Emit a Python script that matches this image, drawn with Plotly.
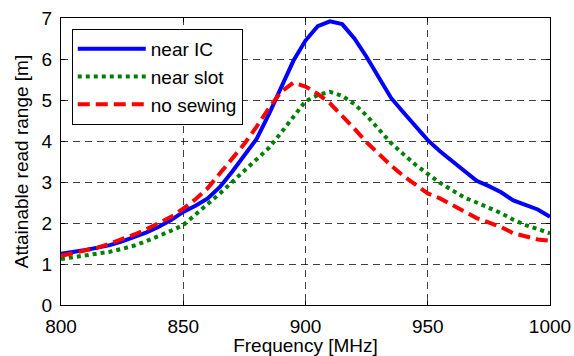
import plotly.graph_objects as go

freq = [800, 805, 810, 815, 820, 825, 830, 835, 840, 845, 850, 855, 860, 865, 870, 875, 880, 885, 890, 895,
        900, 905, 910, 915, 920, 925, 930, 935, 940, 945, 950, 955, 960, 965, 970, 975, 980, 985, 990, 995, 1000]

near_ic = [1.25, 1.29, 1.34, 1.40, 1.46, 1.55, 1.65, 1.77, 1.91, 2.07, 2.27, 2.42, 2.60, 2.88, 3.25, 3.65, 4.05, 4.65, 5.30, 5.95,
           6.45, 6.80, 6.92, 6.85, 6.50, 6.05, 5.55, 5.05, 4.70, 4.35, 4.02, 3.75, 3.50, 3.27, 3.03, 2.90, 2.75, 2.55, 2.45, 2.33, 2.15]

near_slot = [1.12, 1.16, 1.20, 1.25, 1.30, 1.37, 1.45, 1.56, 1.68, 1.81, 1.95, 2.20, 2.45, 2.72, 3.00, 3.27, 3.55, 3.83, 4.20, 4.60,
             4.97, 5.12, 5.20, 5.10, 4.90, 4.62, 4.30, 3.95, 3.68, 3.42, 3.20, 2.98, 2.80, 2.62, 2.50, 2.38, 2.24, 2.08, 1.95, 1.85, 1.75]

no_sewing = [1.20, 1.26, 1.32, 1.40, 1.50, 1.60, 1.72, 1.85, 1.99, 2.15, 2.35, 2.58, 2.85, 3.20, 3.55, 3.93, 4.35, 4.80, 5.20, 5.42,
             5.33, 5.15, 4.92, 4.62, 4.30, 3.97, 3.67, 3.40, 3.15, 2.92, 2.72, 2.60, 2.45, 2.28, 2.12, 2.00, 1.90, 1.75, 1.68, 1.60, 1.57]

x_ticks = [800, 850, 900, 950, 1000]
y_ticks = [0, 1, 2, 3, 4, 5, 6, 7]

FONT = "Liberation Sans, Arial, Helvetica, sans-serif"
FS = 19

fig = go.Figure()
fig.add_trace(go.Scatter(x=freq, y=near_ic, mode="lines", name="near IC",
                         line=dict(color="#0000ff", width=4)))
fig.add_trace(go.Scatter(x=freq, y=near_slot, mode="lines", name="near slot",
                         line=dict(color="#007f00", width=4, dash="dot")))
fig.add_trace(go.Scatter(x=freq, y=no_sewing, mode="lines", name="no sewing",
                         line=dict(color="#ff0000", width=4, dash="12px,6px")))

axis_common = dict(
    showline=True, linecolor="black", linewidth=1, mirror="ticks",
    ticks="inside", ticklen=4, tickcolor="black",
    showgrid=True, gridcolor="rgba(0,0,0,0.75)", gridwidth=1, griddash="7px,5px",
    zeroline=False, tickfont=dict(family=FONT, size=FS, color="black"),
    automargin=False,
)

fig.update_xaxes(range=[800, 1000], tickvals=x_ticks, ticktext=[str(v) for v in x_ticks],
                 ticklabelstandoff=4,
                 title=dict(text="Frequency [MHz]", font=dict(family=FONT, size=FS, color="black"), standoff=0),
                 **axis_common)
fig.update_yaxes(range=[0, 7], tickvals=y_ticks, ticktext=[str(v) for v in y_ticks],
                 ticklabelstandoff=4,
                 title=dict(text="Attainable read range [m]", font=dict(family=FONT, size=FS, color="black"), standoff=7),
                 **axis_common)

fig.update_layout(
    width=574, height=356,
    margin=dict(l=60.5, r=24, t=18, b=51),
    paper_bgcolor="white", plot_bgcolor="white",
    font=dict(family=FONT, color="black"),
    showlegend=True,
    legend=dict(x=0.022, y=0.962, xanchor="left", yanchor="top",
                bgcolor="white", bordercolor="black", borderwidth=1,
                font=dict(family=FONT, size=FS, color="black"),
                itemwidth=68, tracegroupgap=0),
)

fig.write_html("out.html", config={"displayModeBar": False},
               post_script="document.body.style.margin='0';")
